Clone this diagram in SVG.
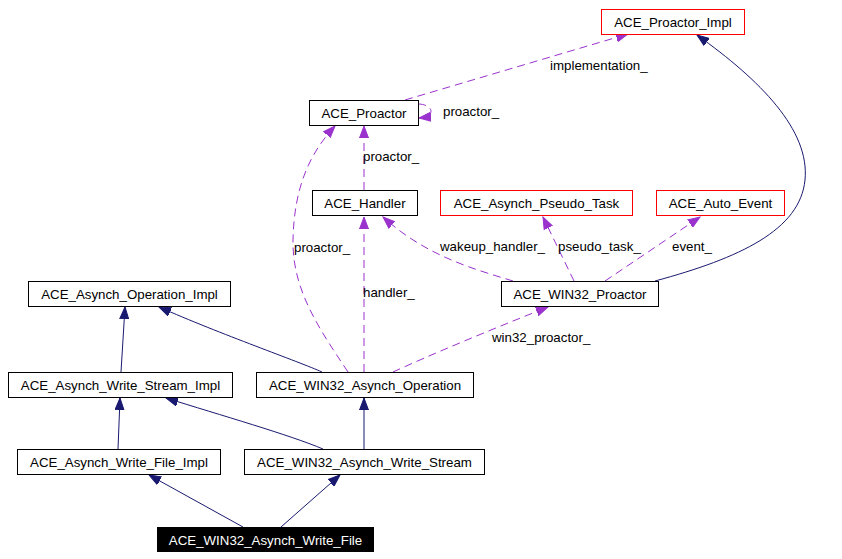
<svg xmlns="http://www.w3.org/2000/svg" width="842" height="559" viewBox="0 0 842 559">
<style>
text{font-family:"Liberation Sans",Arial,sans-serif;font-size:13.3px;fill:#000}
.n rect{fill:#fff;stroke:#000;stroke-width:1}
.n.r rect{stroke:#ff0000}
.n text{text-anchor:middle}
.n.b rect{fill:#000;stroke:#000}
.n.b text{fill:#fff}
.inh{fill:none;stroke:#191970;stroke-width:1}
.use{fill:none;stroke:#9a32cd;stroke-width:1;stroke-dasharray:8,5}
</style>
<defs>
<marker id="ah" markerUnits="userSpaceOnUse" markerWidth="13" markerHeight="10" refX="12" refY="5" orient="auto">
<path d="M0,0.5 L12,5 L0,9.5 z" fill="#191970" stroke="#191970" stroke-width="1"/>
</marker>
<marker id="au" markerUnits="userSpaceOnUse" markerWidth="13" markerHeight="10" refX="12" refY="5" orient="auto">
<path d="M0,0.5 L12,5 L0,9.5 z" fill="#9a32cd" stroke="#9a32cd" stroke-width="1" stroke-dasharray="none"/>
</marker>
</defs>
<rect width="842" height="559" fill="#fff"/>
<g id="connectors">
<path class="inh" d="M243,527 L149,475" marker-end="url(#ah)"/>
<path class="inh" d="M281,527 L340,475" marker-end="url(#ah)"/>
<path class="inh" d="M118,449 L120,398" marker-end="url(#ah)"/>
<path class="inh" d="M323,449 C290,435 220,415 166,398" marker-end="url(#ah)"/>
<path class="inh" d="M364,449 L364,398" marker-end="url(#ah)"/>
<path class="inh" d="M121,372 L125,307" marker-end="url(#ah)"/>
<path class="inh" d="M322,372 C300,362 220,334 159,307" marker-end="url(#ah)"/>
<path class="inh" d="M655,281 C740,258 800,230 805,180 C810,130 760,80 697,35" marker-end="url(#ah)"/>
<path class="use" d="M405,100 L628,34" marker-end="url(#au)"/>
<path class="use" d="M418,104 C432,104 438,116 419,118" marker-end="url(#au)"/>
<path class="use" d="M364,190 L364,126" marker-end="url(#au)"/>
<path class="use" d="M348,372 C320,330 292,290 293,240 C294,190 308,155 335,126" marker-end="url(#au)"/>
<path class="use" d="M364,372 L364,217" marker-end="url(#au)"/>
<path class="use" d="M513,281 C470,268 425,255 383,217" marker-end="url(#au)"/>
<path class="use" d="M574,281 L543,217" marker-end="url(#au)"/>
<path class="use" d="M605,281 L700,217" marker-end="url(#au)"/>
<path class="use" d="M393,372 C430,355 490,330 548,307" marker-end="url(#au)"/>
<text x="550" y="70">implementation_</text>
<text x="443" y="116">proactor_</text>
<text x="363" y="161">proactor_</text>
<text x="294" y="252">proactor_</text>
<text x="363" y="297">handler_</text>
<text x="440" y="251">wakeup_handler_</text>
<text x="558" y="251">pseudo_task_</text>
<text x="672" y="251">event_</text>
<text x="492" y="342">win32_proactor_</text>
</g>
<g id="n_proactor_impl" class="n r"><rect x="601.5" y="9.5" width="143" height="25"/><text x="673" y="27">ACE_Proactor_Impl</text></g>
<g id="n_proactor" class="n"><rect x="309.5" y="100.5" width="109" height="25"/><text x="364" y="118">ACE_Proactor</text></g>
<g id="n_handler" class="n"><rect x="312.5" y="190.5" width="105" height="25"/><text x="365" y="208">ACE_Handler</text></g>
<g id="n_pseudo_task" class="n r"><rect x="440.5" y="190.5" width="192" height="25"/><text x="536.5" y="208">ACE_Asynch_Pseudo_Task</text></g>
<g id="n_auto_event" class="n r"><rect x="656.5" y="190.5" width="128" height="25"/><text x="720.5" y="208">ACE_Auto_Event</text></g>
<g id="n_op_impl" class="n"><rect x="28.5" y="281.5" width="202" height="25"/><text x="129.5" y="299">ACE_Asynch_Operation_Impl</text></g>
<g id="n_win32_proactor" class="n"><rect x="501.5" y="281.5" width="157" height="25"/><text x="580" y="299">ACE_WIN32_Proactor</text></g>
<g id="n_ws_impl" class="n"><rect x="8.5" y="372.5" width="224" height="25"/><text x="120.5" y="390">ACE_Asynch_Write_Stream_Impl</text></g>
<g id="n_win32_op" class="n"><rect x="256.5" y="372.5" width="217" height="25"/><text x="365" y="390">ACE_WIN32_Asynch_Operation</text></g>
<g id="n_wf_impl" class="n"><rect x="17.5" y="449.5" width="203" height="25"/><text x="119" y="467">ACE_Asynch_Write_File_Impl</text></g>
<g id="n_win32_ws" class="n"><rect x="244.5" y="449.5" width="240" height="25"/><text x="364.5" y="467">ACE_WIN32_Asynch_Write_Stream</text></g>
<g id="n_win32_wf" class="n b"><rect x="157.5" y="527.5" width="216" height="24"/><text x="265.5" y="545">ACE_WIN32_Asynch_Write_File</text></g>
</svg>
